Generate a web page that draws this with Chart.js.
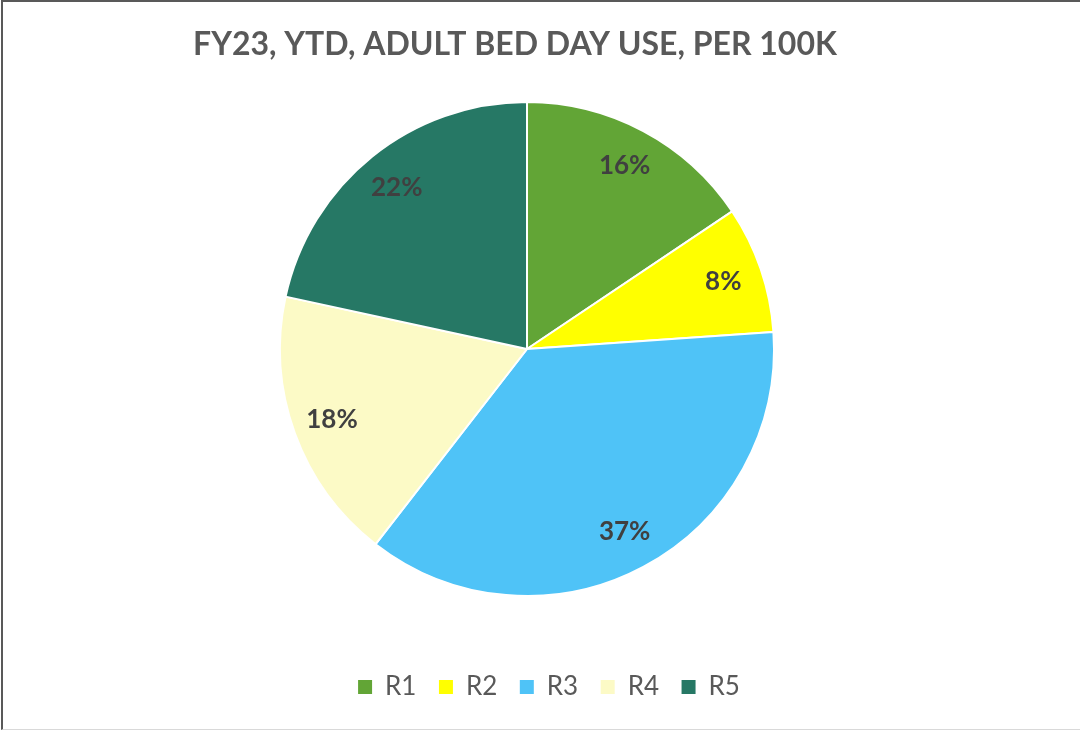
<!DOCTYPE html>
<html>
<head>
<meta charset="utf-8">
<script src="https://cdn.jsdelivr.net/npm/chart.js@4.4.1/dist/chart.umd.min.js"></script>
<style>
  html, body { margin: 0; padding: 0; background: #ffffff; }
  #wrap { position: relative; width: 1080px; height: 730px; }
  #frame { position: absolute; left: 1px; top: 0; width: 1079px; height: 730px; box-sizing: border-box;
           border-top: 2px solid #595959; border-left: 2px solid #595959; border-bottom: 1px solid #d9d9d9;
           pointer-events: none; }
  canvas { display: block; }
</style>
</head>
<body>
<div id="wrap">
  <canvas id="c" width="1080" height="730"></canvas>
  <div id="frame"></div>
</div>
<script>
const titleText = 'FY23, YTD, ADULT BED DAY USE, PER 100K';
const categories = ['R1', 'R2', 'R3', 'R4', 'R5'];
const shares = [15.6, 8.3, 36.6, 17.9, 21.6];
const sliceColors = ['#62A536', '#FFFF00', '#4FC3F7', '#FCFAC6', '#267865'];

const shiftBlocks = {
  id: 'shiftBlocks',
  afterLayout(chart) {
    if (chart.titleBlock) { chart.titleBlock.left -= 12; chart.titleBlock.right -= 12; }
    if (chart.legend) { chart.legend.left += 22; chart.legend.right += 22; }
  }
};

const pctLabels = {
  id: 'pctLabels',
  afterDatasetsDraw(chart) {
    const ctx = chart.ctx;
    const meta = chart.getDatasetMeta(0);
    const data = chart.data.datasets[0].data;
    const total = data.reduce((a, b) => a + b, 0);
    ctx.save();
    ctx.font = 'bold 26px Lato';
    ctx.fillStyle = '#404040';
    ctx.textAlign = 'center';
    ctx.textBaseline = 'middle';
    meta.data.forEach((arc, i) => {
      const p = arc.getProps(['x', 'y', 'startAngle', 'endAngle', 'outerRadius'], true);
      const mid = (p.startAngle + p.endAngle) / 2;
      const r = p.outerRadius * 0.84;
      ctx.fillText(Math.round(data[i] / total * 100) + '%', p.x + Math.cos(mid) * r, p.y + Math.sin(mid) * r);
    });
    ctx.restore();
  }
};

function build() {
  new Chart(document.getElementById('c'), {
    type: 'pie',
    data: {
      labels: categories,
      datasets: [{
        data: shares,
        backgroundColor: sliceColors,
        borderColor: '#ffffff',
        borderWidth: 2,
        hoverOffset: 0
      }]
    },
    options: {
      responsive: false,
      animation: false,
      layout: { padding: { top: 0, left: 0, right: 26, bottom: 20 } },
      plugins: {
        title: {
          display: true,
          text: titleText,
          color: '#595959',
          font: { family: 'Lato', size: 32, weight: 'bold', lineHeight: 1.2 },
          padding: { top: 25.5, bottom: 37.1 }
        },
        legend: {
          position: 'bottom',
          title: { display: true, text: '', padding: { top: 44.5, bottom: 0 }, font: { size: 10, lineHeight: 1 } },
          labels: {
            boxWidth: 14,
            boxHeight: 14,
            padding: 22.5,
            color: '#595959',
            font: { family: 'Lato', size: 26 },
            generateLabels(chart) {
              const items = Chart.overrides.doughnut.plugins.legend.labels.generateLabels(chart);
              return items.map(it => Object.assign(it, { lineWidth: 0, strokeStyle: 'rgba(0,0,0,0)' }));
            }
          }
        },
        tooltip: { enabled: false }
      }
    },
    plugins: [shiftBlocks, pctLabels]
  });
}

Promise.all([
  document.fonts.load('bold 32px Lato'),
  document.fonts.load('26px Lato'),
  document.fonts.load('bold 26px Lato')
]).catch(() => {}).then(build);
</script>
</body>
</html>
